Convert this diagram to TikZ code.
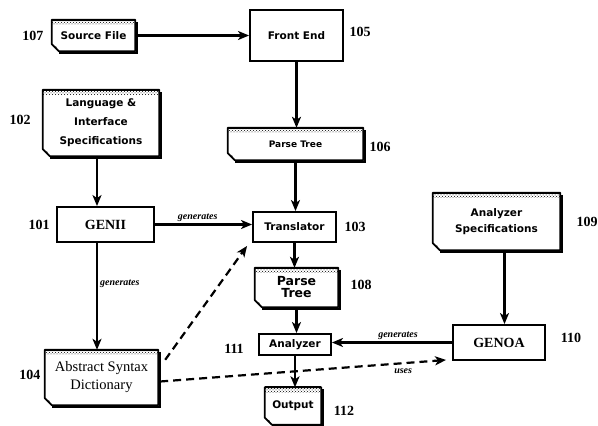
\documentclass[tikz,border=0pt]{standalone}
\usepackage{fontspec}
\setmainfont{Liberation Serif}
\newfontfamily\chic{DejaVu Sans}
\usetikzlibrary{arrows.meta,patterns,calc}
\begin{document}
\begin{tikzpicture}[x=1pt,y=-1pt,
  box/.style={draw, line width=1.9pt, inner sep=0pt, align=center},
  doc/.style={inner sep=0pt, align=center},
  sanstxt/.style={font=\chic\bfseries\fontsize{10.5}{12}\selectfont},
  serifbig/.style={font=\bfseries\fontsize{14}{14}\selectfont},
  num/.style={font=\bfseries\fontsize{14}{14}\selectfont, inner sep=0pt},
  gen/.style={font=\bfseries\itshape\fontsize{10}{10}\selectfont, inner sep=2pt},
  arr/.style={-{Stealth[length=11pt,width=9pt,inset=3pt]}, line width=2.2pt},
  dasharr/.style={arr, dash pattern=on 8pt off 5pt}
]
\useasboundingbox (0,0) rectangle (598,426);

% plain boxes
\node[box, sanstxt, minimum width=93pt, minimum height=51pt] (fe) at (296.5,35.5) {Front End};
\node[box, serifbig, minimum width=97pt, minimum height=35pt] (genii) at (105.5,224.5) {GENII};
\node[box, sanstxt, minimum width=83pt, minimum height=30pt] (tr) at (294.5,227) {Translator};
\node[box, sanstxt, minimum width=72pt, minimum height=21pt] (an) at (295,344.5) {Analyzer};
\node[box, serifbig, minimum width=92pt, minimum height=35pt] (genoa) at (499,342.5) {GENOA};

% document shapes
\node[doc, sanstxt, minimum width=83pt, minimum height=31pt] (src) at (93.5,35.5) {Source File};
\node[doc, font=\chic\bfseries\fontsize{10.5}{19}\selectfont, minimum width=116pt, minimum height=66pt] (lang) at (101,123) {Language \&\\Interface\\Specifications};
\node[doc, font=\chic\bfseries\fontsize{9}{10}\selectfont, minimum width=135pt, minimum height=32pt] (pt1) at (295.5,144) {Parse Tree};
\node[doc, font=\chic\bfseries\fontsize{12.5}{12}\selectfont, minimum width=83pt, minimum height=39pt] (pt2) at (296.5,287.5) {Parse\\Tree};
\node[doc, sanstxt, minimum width=56pt, minimum height=37pt] (out) at (293,406) {Output};
\node[doc, font=\chic\bfseries\fontsize{10.5}{16}\selectfont, minimum width=127pt, minimum height=57pt] (aspec) at (496.5,221.5) {Analyzer\\Specifications};
\node[doc, font=\fontsize{14.5}{18}\selectfont, minimum width=113pt, minimum height=55pt] (asd) at (101.5,377.5) {Abstract Syntax\\Dictionary};

\foreach \n in {src,lang,pt1,pt2,out,aspec,asd}{
  \fill[pattern=crosshatch dots] (\n.north west) rectangle ([yshift=-5pt]\n.north east);
  \draw[line width=1.8pt, line join=round] (\n.north west) -- (\n.north east) -- (\n.south east)
    -- ([xshift=7pt]\n.south west) -- ([yshift=7pt]\n.south west) -- cycle;
  \draw[line width=2.2pt] (\n.north west) -- (\n.north east);
  \draw[line width=2.8pt] ([xshift=1.8pt,yshift=-2pt]\n.north east) -- ([xshift=1.8pt,yshift=-1.8pt]\n.south east)
    -- ([xshift=7pt,yshift=-1.8pt]\n.south west);
  \fill ([xshift=1.5pt,yshift=5pt]\n.south west) -- ([xshift=4.5pt,yshift=4.5pt]\n.south west)
    -- ([xshift=5pt,yshift=1.5pt]\n.south west) -- cycle;
}

% number labels
\node[num] (l107) at (33,36) {107};
\node[num] (l105) at (360,32) {105};
\node[num] (l102) at (20,120) {102};
\node[num] (l101) at (39,225) {101};
\node[num] (l106) at (380,147) {106};
\node[num] (l103) at (355,227) {103};
\node[num] (l108) at (361,285) {108};
\node[num] (l109) at (587,222) {109};
\node[num] (l111) at (234,349) {111};
\node[num] (l110) at (571,338) {110};
\node[num] (l104) at (30,375) {104};
\node[num] (l112) at (344,411) {112};

% connectors
\draw[arr] (src.east) -- (src.east -| fe.west);
\draw[arr] (fe.south) -- (fe.south |- pt1.north);
\draw[arr] (pt1.south) -- (pt1.south |- tr.north);
\draw[arr] (tr.south) -- (tr.south |- pt2.north);
\draw[arr] (pt2.south) -- (pt2.south |- an.north);
\draw[arr] (an.south) -- (an.south |- out.north);
\draw[arr] ([xshift=-4pt]lang.south) coordinate (l1) -- (l1 |- genii.north);
\draw[arr] (genii.east) -- (genii.east -| tr.west) node[pos=0.44, above, gen] {generates};
\draw[arr] ([xshift=-8.5pt]genii.south) coordinate (g1) -- (g1 |- asd.north) node[pos=0.38, right, gen] {generates};
\draw[arr] (genoa.west) -- (genoa.west -| an.east) node[pos=0.45, above, gen] {generates};
\draw[arr] ([xshift=8pt]aspec.south) coordinate (a1) -- (a1 |- genoa.north);
\draw[dasharr] ([xshift=7pt,yshift=-10pt]asd.north east) -- ([xshift=-5pt,yshift=-3pt]tr.south west);
\draw[dasharr] ([xshift=2pt,yshift=-4pt]asd.east) -- ([xshift=-6pt,yshift=1pt]genoa.south west) node[pos=0.85, below=3pt, gen] {uses};
\end{tikzpicture}
\end{document}
